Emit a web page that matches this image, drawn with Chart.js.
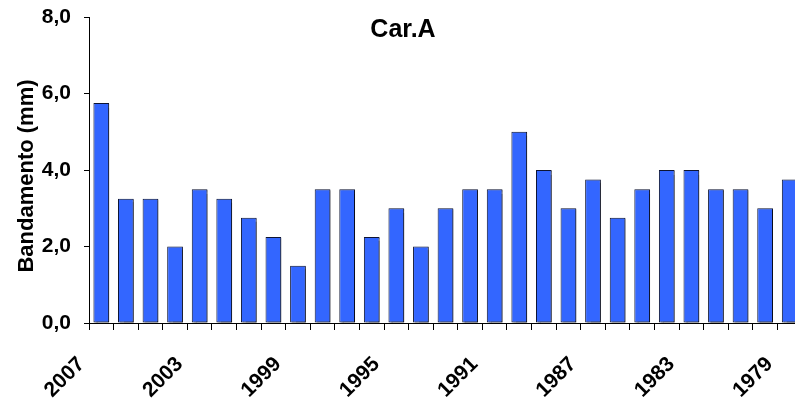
<!DOCTYPE html>
<html>
<head>
<meta charset="utf-8">
<script src="https://cdn.jsdelivr.net/npm/chart.js@4.4.1/dist/chart.umd.min.js"></script>
<style>
  html, body { margin: 0; padding: 0; background: #fff; overflow: hidden; }
  #wrap { width: 795px; height: 403px; overflow: hidden; }
  canvas { display: block; }
</style>
</head>
<body>
<div id="wrap"><canvas id="chartCanvas" width="810" height="403"></canvas></div>
<script>
// bandamento per year, newest first
const years = [
  "2007", "2006", "2005", "2004", "2003", "2002", "2001", "2000", "1999", "1998",
  "1997", "1996", "1995", "1994", "1993", "1992", "1991", "1990", "1989", "1988",
  "1987", "1986", "1985", "1984", "1983", "1982", "1981", "1980", "1979",
];
const bandamento = [
  5.75, 3.25, 3.25, 2.0, 3.5, 3.25, 2.75, 2.25, 1.5, 3.5,
  3.5, 2.25, 3.0, 2.0, 3.0, 3.5, 3.5, 5.0, 4.0, 3.0,
  3.75, 2.75, 3.5, 4.0, 4.0, 3.5, 3.5, 3.0, 3.75,
];
const shownYears = ["2007", "2003", "1999", "1995", "1991", "1987", "1983", "1979"];
const yTicks = [0, 2, 4, 6, 8];
const chartTitle = "Car.A";
const yTitle = "Bandamento (mm)";

const FONT = "'Liberation Sans', Arial, sans-serif";

// bar drop shadow
const barShadow = {
  id: "barShadow",
  beforeDatasetsDraw(chart) {
    const c = chart.ctx;
    c.save();
    c.shadowColor = "rgba(0,0,0,0.45)";
    c.shadowOffsetX = 2;
    c.shadowOffsetY = 1;
    c.shadowBlur = 1;
  },
  afterDatasetsDraw(chart) {
    chart.ctx.restore();
  },
};

// chart title inside the plot area, and the rotated y axis title
const textLabels = {
  id: "textLabels",
  afterDraw(chart) {
    const c = chart.ctx;
    c.save();
    c.fillStyle = "#000";
    c.textAlign = "center";
    c.textBaseline = "middle";
    c.font = "bold 25px " + FONT;
    c.fillText(chartTitle, 403, 30);
    c.translate(27, 176);
    c.rotate(-Math.PI / 2);
    c.font = "bold 22px " + FONT;
    c.fillText(yTitle, 0, 0);
    c.restore();
  },
};

function noOverflow(scale) {
  scale.paddingLeft = 0;
  scale.paddingRight = 0;
  scale.paddingTop = 0;
  scale.paddingBottom = 0;
}

let ctx = document.getElementById("chartCanvas").getContext("2d");
let chart = new Chart(ctx, {
  type: "bar",
  data: {
    labels: years,
    datasets: [
      {
        data: bandamento,
        backgroundColor: "#3366FF",
        borderColor: "#0d1433",
        borderWidth: 1,
        borderSkipped: false,
        barPercentage: 0.64,
        categoryPercentage: 1,
      },
    ],
  },
  options: {
    responsive: false,
    animation: false,
    layout: {
      padding: { left: 0, right: 8, top: 17, bottom: 0 },
    },
    plugins: {
      legend: { display: false },
      tooltip: { enabled: false },
    },
    scales: {
      x: {
        afterFit(scale) {
          scale.height = 80;
          noOverflow(scale);
        },
        grid: {
          drawOnChartArea: false,
          drawTicks: true,
          tickLength: 7,
          color: "#000",
          offset: true,
        },
        border: { display: true, color: "#000", width: 1 },
        ticks: {
          autoSkip: false,
          maxRotation: 45,
          minRotation: 45,
          padding: 22,
          labelOffset: -20,
          color: "#000",
          font: { family: FONT, size: 21, weight: "bold" },
          callback: function (v, i) {
            const y = years[i];
            return shownYears.includes(y) ? y : "";
          },
        },
      },
      y: {
        min: 0,
        max: 8,
        afterFit(scale) {
          scale.width = 89;
          noOverflow(scale);
        },
        afterBuildTicks(scale) {
          scale.ticks = yTicks.map((v) => ({ value: v }));
        },
        grid: {
          drawOnChartArea: false,
          drawTicks: true,
          tickLength: 5,
          color: "#000",
        },
        border: { display: true, color: "#000", width: 1 },
        ticks: {
          padding: 13,
          color: "#000",
          font: { family: FONT, size: 21, weight: "bold" },
          callback: (v) => v.toFixed(1).replace(".", ","),
        },
      },
    },
  },
  plugins: [barShadow, textLabels],
});
</script>
</body>
</html>
